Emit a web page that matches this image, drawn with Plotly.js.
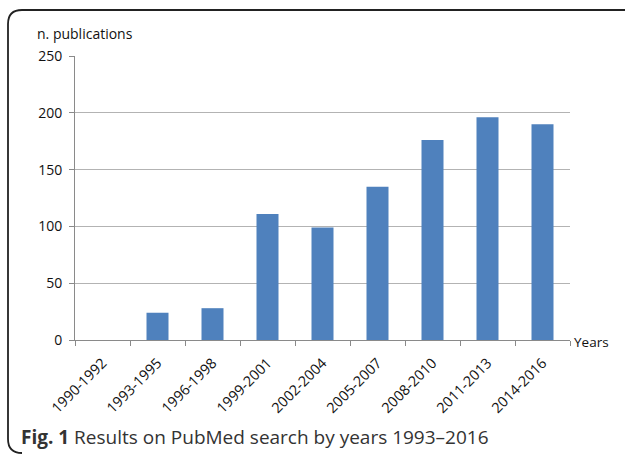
<!DOCTYPE html>
<html>
<head>
<meta charset="utf-8">
<script src="https://cdn.plot.ly/plotly-3.0.1.min.js"></script>
<style>html,body{margin:0;padding:0;background:#fff;}#chart{width:625px;height:455px;}</style>
</head>
<body>
<div id="chart"></div>
<script>
var categories = ["1990-1992","1993-1995","1996-1998","1999-2001","2002-2004","2005-2007","2008-2010","2011-2013","2014-2016"];
var publications = [0, 24, 28, 111, 99, 135, 176, 196, 190];
var yTicks = [0, 50, 100, 150, 200, 250];

var font = "Open Sans, Liberation Sans, sans-serif";
var L = 75, R = 55, T = 56, B = 115, W = 625, H = 455;
var pw = W - L - R, ph = H - T - B;
function px(x){ return (x - L) / pw; }
function py(y){ return (H - B - y) / ph; }
var rx = 14 / pw, ry = 14 / ph;
var x0 = px(8), x1 = px(640), y0 = py(10), y1 = py(453);
var framePath = "M " + x1 + "," + y0 + " L " + (x0 + rx) + "," + y0 +
  " Q " + x0 + "," + y0 + " " + x0 + "," + (y0 - ry) +
  " L " + x0 + "," + (y1 + ry) +
  " Q " + x0 + "," + y1 + " " + (x0 + rx) + "," + y1;

var trace = {
  type: "bar",
  x: categories,
  y: publications,
  marker: {color: "#4f81bd", line: {width: 0}},
  hoverinfo: "x+y"
};

var layout = {
  width: W, height: H,
  margin: {l: L, r: R, t: T, b: B},
  paper_bgcolor: "#fff", plot_bgcolor: "#fff",
  showlegend: false,
  bargap: 0.6,
  font: {family: font, color: "#111", size: 13},
  xaxis: {
    type: "category",
    tickangle: -45,
    tickson: "boundaries",
    ticks: "outside", ticklen: 5, tickcolor: "#8a8a8a",
    showline: true, linecolor: "#8a8a8a", linewidth: 1,
    showgrid: false,
    tickfont: {family: font, size: 14.4, color: "#111"},
    ticklabelstandoff: 8,
    fixedrange: true
  },
  yaxis: {
    range: [0, 250],
    tickvals: yTicks,
    ticks: "outside", ticklen: 5, tickcolor: "#8a8a8a",
    showline: true, linecolor: "#8a8a8a", linewidth: 1,
    showgrid: true, gridcolor: "#b3b3b3", gridwidth: 1,
    zeroline: false,
    tickfont: {family: font, size: 14, color: "#111"},
    ticklabelstandoff: 4,
    fixedrange: true
  },
  shapes: [
    {type: "path", xref: "paper", yref: "paper", path: framePath,
     line: {color: "#222", width: 1.8}}
  ],
  annotations: [
    {xref: "paper", yref: "paper", x: px(35), y: py(33), xanchor: "left", yanchor: "middle",
     text: "n. publications", showarrow: false, font: {family: font, size: 14, color: "#111"}},
    {xref: "paper", yref: "paper", x: px(572), y: py(342), xanchor: "left", yanchor: "middle",
     text: "Years", showarrow: false, font: {family: font, size: 13.5, color: "#111"}},
    {xref: "paper", yref: "paper", x: px(19), y: py(437), xanchor: "left", yanchor: "middle",
     text: "<b>Fig. 1</b> Results on PubMed search by years 1993–2016", showarrow: false,
     font: {family: font, size: 19, color: "#333"}}
  ]
};

Plotly.newPlot("chart", [trace], layout, {displayModeBar: false, staticPlot: true});
</script>
</body>
</html>
